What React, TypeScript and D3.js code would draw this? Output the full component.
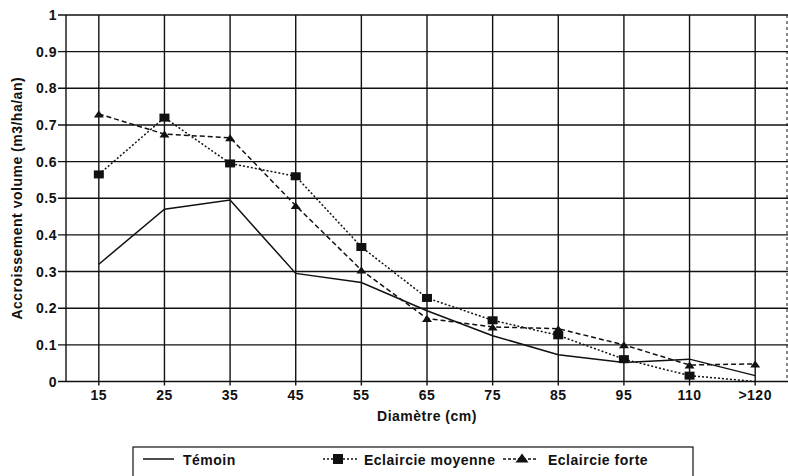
import * as React from "react";
import * as d3 from "d3";

// Accroissement en volume par classe de diamètre
const diameters = ["15", "25", "35", "45", "55", "65", "75", "85", "95", "110", ">120"];
const temoin = [0.32, 0.47, 0.495, 0.295, 0.27, 0.193, 0.125, 0.073, 0.052, 0.061, 0.016];
const eclaircieMoyenne = [0.565, 0.72, 0.595, 0.56, 0.367, 0.228, 0.167, 0.126, 0.061, 0.016, 0];
const eclaircieForte = [0.73, 0.675, 0.665, 0.48, 0.304, 0.172, 0.149, 0.144, 0.1, 0.045, 0.048];
const yTicks = [0, 0.1, 0.2, 0.3, 0.4, 0.5, 0.6, 0.7, 0.8, 0.9, 1];

const W = 788;
const H = 476;
const m = { left: 66, right: 0, top: 15, bottom: 94 };
const font = "'Liberation Sans', Arial, sans-serif";
const ink = "#111";

type Marker = "none" | "square" | "triangle";

function MarkerShape({ kind, x, y, big = false }: { kind: Marker; x: number; y: number; big?: boolean }) {
  if (kind === "square") {
    const w = big ? 10 : 10;
    const h = big ? 10 : 8;
    return <rect x={x - w / 2} y={y - h / 2} width={w} height={h} fill={ink} />;
  }
  if (kind === "triangle") {
    const w = big ? 13 : 10;
    const h = big ? 9 : 7;
    return <path d={`M${x},${y - h / 2}L${x + w / 2},${y + h / 2}L${x - w / 2},${y + h / 2}Z`} fill={ink} />;
  }
  return null;
}

export default function App() {
  const x = d3.scaleBand<string>().domain(diameters).range([m.left, W - m.right]);
  const cx = (d: string) => (x(d) ?? 0) + x.bandwidth() / 2;
  const y = d3.scaleLinear().domain([0, 1]).range([H - m.bottom - 0.5, m.top]);

  const series = [
    { name: "Témoin", values: temoin, dash: undefined as string | undefined, marker: "none" as Marker },
    { name: "Eclaircie moyenne", values: eclaircieMoyenne, dash: "2 2", marker: "square" as Marker },
    { name: "Eclaircie forte", values: eclaircieForte, dash: "5 3", marker: "triangle" as Marker },
  ];

  const line = d3
    .line<number>()
    .x((_, i) => cx(diameters[i]))
    .y((v) => y(v));

  const textStyle: React.CSSProperties = { fontFamily: font, fontWeight: 700, fontSize: 14, letterSpacing: 0.5 };

  return (
    <svg width={W} height={H} style={{ position: "absolute", left: 0, top: 0, background: "#fff" }}>
      {/* grid */}
      <g stroke={ink} strokeWidth={1.4}>
        {yTicks.map((t) => (
          <g key={t}>
            <line x1={m.left - 8} x2={W - m.right} y1={y(t)} y2={y(t)} />
          </g>
        ))}
        <line x1={m.left} x2={m.left} y1={y(1)} y2={y(0)} />
        {diameters.map((d) => (
          <line key={d} x1={cx(d)} x2={cx(d)} y1={y(1)} y2={y(0) + 4} />
        ))}
        <line x1={W - 1} x2={W - 1} y1={y(1)} y2={y(0)} strokeDasharray="3 3" strokeWidth={1} />
      </g>

      {/* y labels */}
      {yTicks.map((t) => (
        <text key={t} x={m.left - 9} y={y(t)} dy="0.36em" textAnchor="end" fill={ink} style={textStyle}>
          {t === 0 || t === 1 ? String(t) : t.toFixed(1)}
        </text>
      ))}

      {/* x labels */}
      {diameters.map((d) => (
        <text key={d} x={cx(d)} y={400} textAnchor="middle" fill={ink} style={textStyle}>
          {d}
        </text>
      ))}

      <text x={(m.left + W) / 2} y={421} textAnchor="middle" fill={ink} style={textStyle}>
        Diamètre (cm)
      </text>
      <text
        transform={`translate(22,${(y(0) + y(1)) / 2}) rotate(-90)`}
        textAnchor="middle"
        fill={ink}
        style={textStyle}
      >
        Accroissement volume (m3/ha/an)
      </text>

      {/* series */}
      {series.map((s) => (
        <g key={s.name}>
          <path d={line(s.values) ?? ""} fill="none" stroke={ink} strokeWidth={1.5} strokeDasharray={s.dash} />
          {s.values.map((v, i) =>
            v > 0 ? <MarkerShape key={i} kind={s.marker} x={cx(diameters[i])} y={y(v)} /> : null
          )}
        </g>
      ))}

      {/* legend */}
      <rect x={133} y={447} width={560} height={40} fill="none" stroke={ink} strokeWidth={1.2} />
      <g>
        <line x1={143} x2={174} y1={459} y2={459} stroke={ink} strokeWidth={1.5} />
        <text x={183} y={465} fill={ink} style={textStyle}>Témoin</text>

        <line x1={323} x2={358} y1={459} y2={459} stroke={ink} strokeWidth={1.5} strokeDasharray="2 2" />
        <MarkerShape kind="square" x={338} y={459} big />
        <text x={364} y={465} fill={ink} style={textStyle}>Eclaircie moyenne</text>

        <line x1={503} x2={538} y1={459} y2={459} stroke={ink} strokeWidth={1.5} strokeDasharray="3 2" />
        <MarkerShape kind="triangle" x={522} y={458} big />
        <text x={548} y={465} fill={ink} style={textStyle}>Eclaircie forte</text>
      </g>
    </svg>
  );
}
